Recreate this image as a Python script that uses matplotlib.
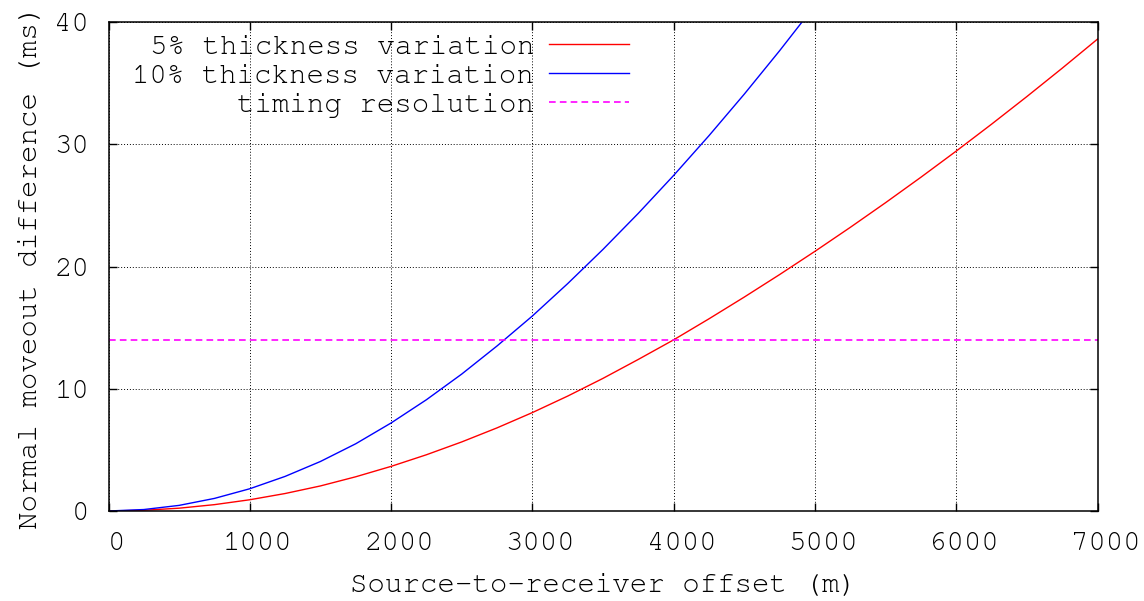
import matplotlib.pyplot as plt
import matplotlib.transforms as mtrans

plt.rcParams['font.family'] = ['FreeMono', 'Nimbus Mono PS', 'Courier New', 'Liberation Mono']

# offsets (m)
offset = [0, 250, 500, 750, 1000, 1250, 1500, 1750, 2000, 2250, 2500, 2750, 3000, 3250, 3500,
          3750, 4000, 4250, 4500, 4750, 5000, 5250, 5500, 5750, 6000, 6250, 6500, 6750, 7000]

# NMO difference (ms)
var5 = [0, 0.06, 0.23, 0.52, 0.92, 1.43, 2.05, 2.8, 3.65, 4.6, 5.65, 6.8, 8.05, 9.4, 10.85,
        12.4, 14.0, 15.72, 17.5, 19.34, 21.24, 23.2, 25.22, 27.3, 29.44, 31.64, 33.9, 36.22, 38.6]
var10 = [0, 0.12, 0.46, 1.03, 1.82, 2.83, 4.05, 5.5, 7.2, 9.1, 11.2, 13.5, 15.95, 18.6, 21.4,
         24.35, 27.45, 30.7, 34.1, 37.65, 41.35]

timing_res = 14

fig = plt.figure(figsize=(11.44, 6.01), dpi=100)
ax = fig.add_axes([108.5 / 1144, 1 - 511 / 601, 989 / 1144, 489 / 601])

ax.plot(offset, var5, color='#ff0000', lw=1.0, label='5% thickness variation')
ax.plot(offset[:len(var10)], var10, color='#0000ff', lw=1.0, label='10% thickness variation')
ax.axhline(timing_res, color='#ff00ff', lw=1.2, ls=(0, (4, 2.5)), label='timing resolution')

ax.set_xlim(0, 7000)
ax.set_ylim(0, 40)
ax.set_xticks(range(0, 7001, 1000))
ax.set_yticks(range(0, 41, 10))

ax.grid(True, color='black', linestyle=(0, (1, 2)), linewidth=0.7)
ax.tick_params(direction='in', length=6, width=1, top=True, right=True, labelsize=21)
ax.tick_params(axis='x', pad=15)
ax.tick_params(axis='y', pad=14)
for s in ax.spines.values():
    s.set_linewidth(1.1)

# gnuplot puts the x tick labels a little right of the ticks
shift = mtrans.ScaledTranslation(8 / 100, 0, fig.dpi_scale_trans)
for lbl in ax.get_xticklabels():
    lbl.set_transform(lbl.get_transform() + shift)

ax.set_xlabel('Source-to-receiver offset (m)', fontsize=21, labelpad=13)
ax.set_ylabel('Normal moveout difference (ms)', fontsize=21, labelpad=8)

ax.legend(loc='upper right', bbox_to_anchor=(629 / 1144, 1 - 34 / 601), bbox_transform=fig.transFigure,
          markerfirst=False, frameon=False, fontsize=21, handlelength=2.75, handletextpad=0.5,
          labelspacing=0.09, borderpad=0, borderaxespad=0)

fig.savefig('out.png', dpi=100)
